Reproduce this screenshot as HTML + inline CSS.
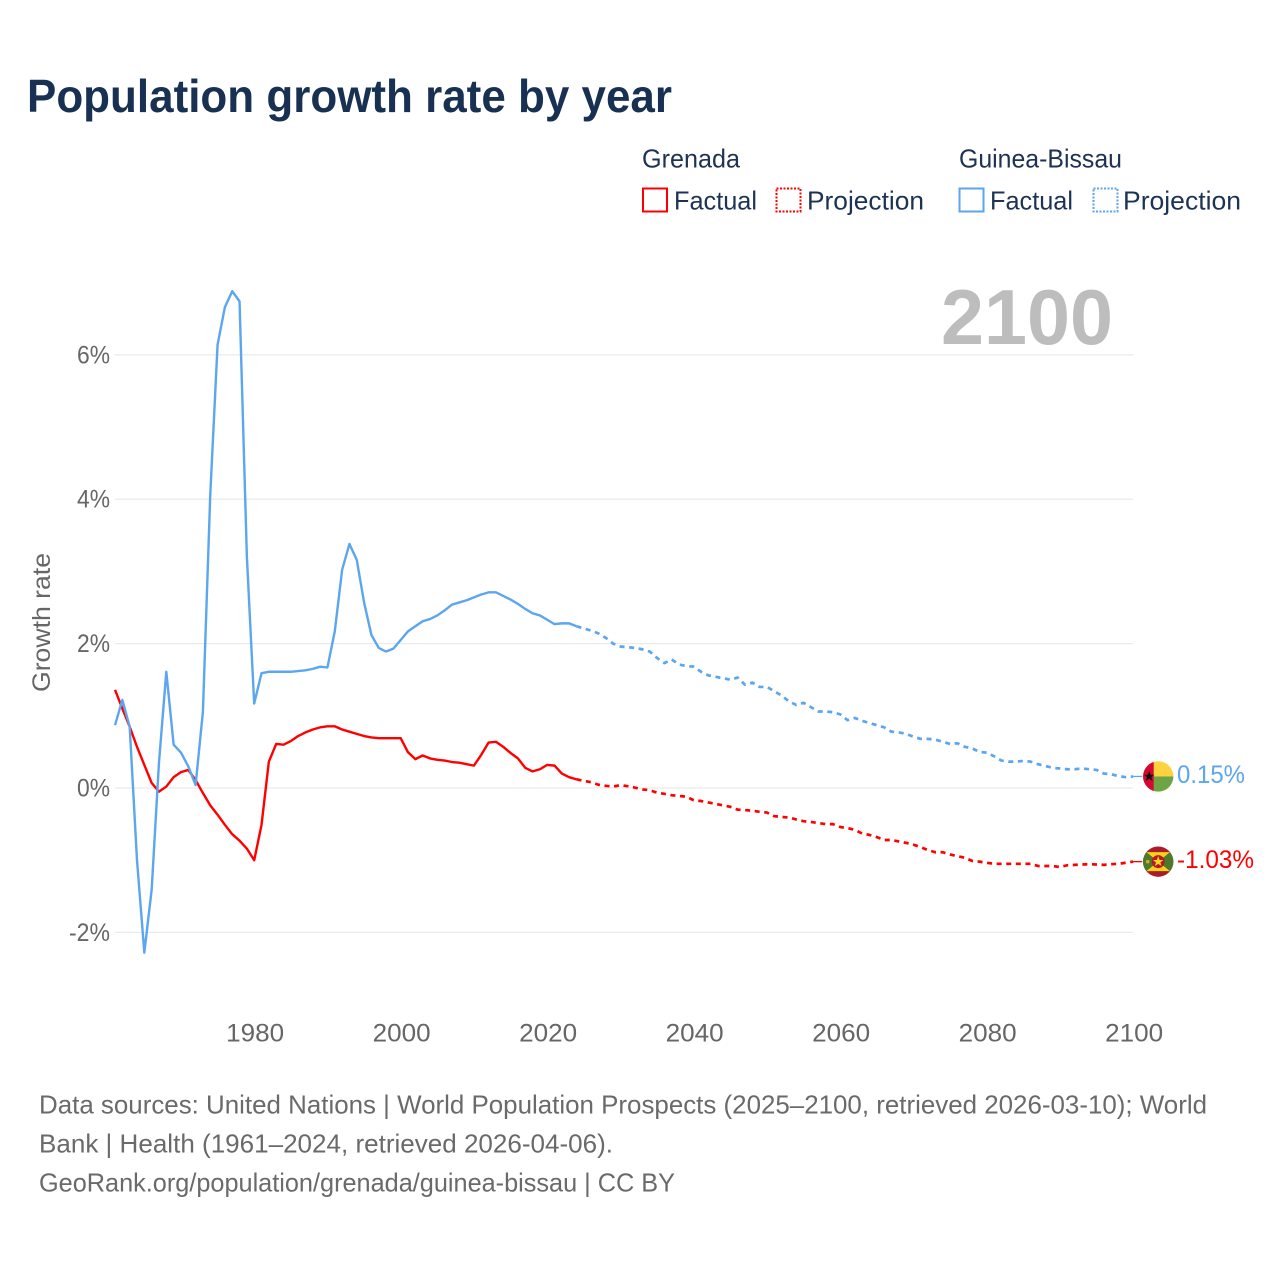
<!DOCTYPE html>
<html lang="en">
<head>
<meta charset="utf-8">
<title>Population growth rate by year</title>
<style>
html,body{margin:0;padding:0;background:#fff;}
svg{display:block;font-family:"Liberation Sans",sans-serif;}
</style>
</head>
<body>
<svg id="chart" xmlns="http://www.w3.org/2000/svg" width="1280" height="1280" viewBox="0 0 1280 1280">
  <defs>
    <clipPath id="flag-clip"><circle cx="0" cy="0" r="15.2"/></clipPath>
  </defs>
  <rect x="0" y="0" width="1280" height="1280" fill="#ffffff"/>
  <text x="27" y="112" font-size="46" font-weight="700" fill="#183153" textLength="645" lengthAdjust="spacingAndGlyphs">Population growth rate by year</text>

  <g font-size="26" fill="#1c3354">
    <text x="642" y="167.5" textLength="98" lengthAdjust="spacingAndGlyphs">Grenada</text>
    <text x="959" y="167.5" textLength="163" lengthAdjust="spacingAndGlyphs">Guinea-Bissau</text>
    <rect x="643" y="188.5" width="24" height="23" fill="none" stroke="#ff0000" stroke-width="2"/>
    <text x="674" y="209.5" textLength="83" lengthAdjust="spacingAndGlyphs">Factual</text>
    <rect x="776.5" y="188.5" width="24" height="23" fill="none" stroke="#ff0000" stroke-width="2" stroke-dasharray="2,1.5"/>
    <text x="807" y="209.5" textLength="117" lengthAdjust="spacingAndGlyphs">Projection</text>
    <rect x="959.5" y="188.5" width="24" height="23" fill="none" stroke="#5ba6ee" stroke-width="2"/>
    <text x="990" y="209.5" textLength="83" lengthAdjust="spacingAndGlyphs">Factual</text>
    <rect x="1093.5" y="188.5" width="24" height="23" fill="none" stroke="#5ba6ee" stroke-width="2" stroke-dasharray="2,1.5"/>
    <text x="1123" y="209.5" textLength="118" lengthAdjust="spacingAndGlyphs">Projection</text>
  </g>

  <text x="1113" y="344" font-size="78" font-weight="700" fill="#bdbdbd" text-anchor="end" textLength="172" lengthAdjust="spacingAndGlyphs">2100</text>

  <g id="grid"></g>
  <g id="y-ticks" font-size="25" fill="#666666"></g>
  <g id="x-ticks" font-size="25" fill="#666666"></g>
  <text transform="translate(50,692) rotate(-90)" font-size="25" fill="#666666" textLength="139" lengthAdjust="spacingAndGlyphs">Growth rate</text>

  <g id="series"></g>

  <g id="flag-guinea-bissau">
    <g clip-path="url(#flag-clip)">
      <rect x="-16" y="-16" width="12" height="32" fill="#d6082f"/>
      <rect x="-4.5" y="-16" width="21" height="16" fill="#fdd23f"/>
      <rect x="-4.5" y="0" width="21" height="16" fill="#6da544"/>
      <polygon points="-9,-5.5 -7.6,-1.7 -3.6,-1.7 -6.8,0.7 -5.6,4.5 -9,2.2 -12.4,4.5 -11.2,0.7 -14.4,-1.7 -10.4,-1.7" fill="#111111"/>
    </g>
  </g>
  <g id="flag-grenada">
    <g clip-path="url(#flag-clip)">
      <rect x="-16" y="-16" width="32" height="32" fill="#a81c2c"/>
      <polygon points="-12,-9.5 12,-9.5 0,0" fill="#fcd116"/>
      <polygon points="-12,9.5 12,9.5 0,0" fill="#fcd116"/>
      <polygon points="-16,-12 -12,-9.5 0,0 -12,9.5 -16,12" fill="#4c7a2c"/>
      <polygon points="16,-12 12,-9.5 0,0 12,9.5 16,12" fill="#4c7a2c"/>
      <circle cx="0" cy="0" r="6.5" fill="#b01c2e"/>
      <polygon points="0,-5.5 1.4,-1.7 5.2,-1.7 2.2,0.7 3.3,4.4 0,2.2 -3.3,4.4 -2.2,0.7 -5.2,-1.7 -1.4,-1.7" fill="#fcd116"/>
      <circle cx="-10.5" cy="0" r="1.8" fill="#e0a820"/>
    </g>
  </g>
  <g id="end-labels" font-size="25"></g>

  <g font-size="26" fill="#6a6a6a">
    <text x="39" y="1113.5" textLength="1168" lengthAdjust="spacingAndGlyphs">Data sources: United Nations | World Population Prospects (2025–2100, retrieved 2026-03-10); World</text>
    <text x="39" y="1152.5" textLength="574" lengthAdjust="spacingAndGlyphs">Bank | Health (1961–2024, retrieved 2026-04-06).</text>
    <text x="39" y="1191.5" textLength="636" lengthAdjust="spacingAndGlyphs">GeoRank.org/population/grenada/guinea-bissau | CC BY</text>
  </g>
</svg>
<script>
const years = [1961,1962,1963,1964,1965,1966,1967,1968,1969,1970,1971,1972,1973,1974,1975,1976,1977,1978,1979,1980,1981,1982,1983,1984,1985,1986,1987,1988,1989,1990,1991,1992,1993,1994,1995,1996,1997,1998,1999,2000,2001,2002,2003,2004,2005,2006,2007,2008,2009,2010,2011,2012,2013,2014,2015,2016,2017,2018,2019,2020,2021,2022,2023,2024,2025,2026,2027,2028,2029,2030,2031,2032,2033,2034,2035,2036,2037,2038,2039,2040,2041,2042,2043,2044,2045,2046,2047,2048,2049,2050,2051,2052,2053,2054,2055,2056,2057,2058,2059,2060,2061,2062,2063,2064,2065,2066,2067,2068,2069,2070,2071,2072,2073,2074,2075,2076,2077,2078,2079,2080,2081,2082,2083,2084,2085,2086,2087,2088,2089,2090,2091,2092,2093,2094,2095,2096,2097,2098,2099,2100];
const grenadaValues = [1.36,1.10,0.85,0.57,0.32,0.07,-0.05,0.02,0.15,0.22,0.25,0.11,-0.07,-0.24,-0.37,-0.51,-0.64,-0.73,-0.84,-1.0,-0.51,0.365,0.61,0.60,0.65,0.72,0.77,0.81,0.84,0.855,0.855,0.81,0.78,0.75,0.72,0.70,0.69,0.69,0.69,0.69,0.495,0.40,0.45,0.41,0.39,0.38,0.36,0.35,0.33,0.31,0.46,0.63,0.64,0.57,0.485,0.41,0.28,0.23,0.26,0.32,0.31,0.20,0.15,0.12,0.10,0.08,0.045,0.03,0.02,0.04,0.025,0.005,-0.02,-0.03,-0.065,-0.08,-0.10,-0.11,-0.12,-0.17,-0.18,-0.20,-0.22,-0.24,-0.26,-0.30,-0.305,-0.315,-0.33,-0.34,-0.39,-0.40,-0.41,-0.435,-0.46,-0.47,-0.485,-0.50,-0.50,-0.54,-0.555,-0.58,-0.63,-0.65,-0.68,-0.72,-0.72,-0.74,-0.76,-0.785,-0.82,-0.86,-0.89,-0.89,-0.92,-0.945,-0.965,-1.01,-1.02,-1.035,-1.05,-1.05,-1.05,-1.05,-1.05,-1.05,-1.08,-1.08,-1.08,-1.095,-1.07,-1.065,-1.06,-1.055,-1.06,-1.065,-1.055,-1.05,-1.035,-1.02];
const guineaBissauValues = [0.87,1.22,0.85,-1.0,-2.28,-1.41,0.35,1.61,0.60,0.49,0.30,0.04,1.06,4.06,6.14,6.66,6.88,6.74,3.2,1.17,1.59,1.61,1.61,1.61,1.61,1.62,1.63,1.65,1.68,1.67,2.17,3.02,3.38,3.16,2.57,2.12,1.94,1.89,1.93,2.05,2.17,2.24,2.31,2.34,2.39,2.46,2.54,2.57,2.60,2.64,2.68,2.71,2.71,2.66,2.61,2.55,2.48,2.42,2.39,2.33,2.27,2.28,2.28,2.24,2.21,2.18,2.14,2.08,2.0,1.96,1.95,1.94,1.92,1.89,1.80,1.73,1.78,1.71,1.69,1.68,1.61,1.56,1.54,1.52,1.50,1.53,1.43,1.46,1.40,1.40,1.34,1.28,1.20,1.15,1.18,1.12,1.06,1.06,1.05,1.02,0.94,0.97,0.93,0.90,0.87,0.84,0.78,0.77,0.75,0.71,0.68,0.68,0.67,0.64,0.61,0.62,0.57,0.55,0.50,0.49,0.44,0.38,0.365,0.365,0.375,0.365,0.33,0.305,0.28,0.27,0.26,0.26,0.27,0.26,0.25,0.20,0.19,0.165,0.15,0.16];
const lastFactualYear = 2024;
const xTicks = [1980,2000,2020,2040,2060,2080,2100];
const xTickLabels = ["1980","2000","2020","2040","2060","2080","2100"];
const yTicks = [-2,0,2,4,6];
const yTickLabels = ["-2%","0%","2%","4%","6%"];
const endLabels = ["-1.03%","0.15%"];

const SVG_NS = "http://www.w3.org/2000/svg";
const RED = "#ff0000";
const BLUE = "#5ba6ee";
function xScale(year){ return 254.2 + (year - 1980) * 7.325; }
function yScale(value){ return 788 - value * 72.2; }
function mk(tag, attrs, parent){
  const el = document.createElementNS(SVG_NS, tag);
  for (const k in attrs) el.setAttribute(k, attrs[k]);
  parent.appendChild(el);
  return el;
}
const gridG = document.getElementById("grid");
const yG = document.getElementById("y-ticks");
const xG = document.getElementById("x-ticks");
const seriesG = document.getElementById("series");
const labelsG = document.getElementById("end-labels");

yTicks.forEach(function(v, i){
  const line = mk("line", {x1:115, x2:1133, y1:yScale(v), y2:yScale(v), stroke:"#ebebeb", "stroke-width":1.3}, gridG);
  
  
  const label = mk("text", {x:110, y:yScale(v)+8.5, "text-anchor":"end", textLength:yTickLabels[i].length === 3 ? 41 : 33, lengthAdjust:"spacingAndGlyphs"}, yG);
  label.textContent = yTickLabels[i];
  
  
});
xTicks.forEach(function(v, i){
  const label = mk("text", {x:xScale(v)+0.9, y:1041.5, "text-anchor":"middle", textLength:58, lengthAdjust:"spacingAndGlyphs"}, xG);
  label.textContent = xTickLabels[i];
  
  
});

function buildPath(values, from, to){
  let d = "";
  years.forEach(function(yr, i){
    if (yr < from || yr > to) return;
    d += (d ? "L" : "M") + xScale(yr).toFixed(2) + " " + yScale(values[i]).toFixed(2);
  });
  return d;
}
function drawSeries(values, color, flagId, labelIdx){
  const lastYear = years[years.length - 1];
  const lastVal = values[values.length - 1];
  const lastX = xScale(lastYear);
  const lastY = yScale(lastVal);

  const factual = mk("path", {d:buildPath(values, years[0], lastFactualYear), fill:"none", stroke:color, "stroke-width":2.4, "stroke-linejoin":"round"}, seriesG);
  
  

  const proj = mk("path", {d:buildPath(values, lastFactualYear, lastYear), fill:"none", stroke:color, "stroke-width":2.7, "stroke-dasharray":"5,4.6", "stroke-linejoin":"round"}, seriesG);
  
  

  const conn = mk("line", {x1:lastX, x2:lastX + 9, y1:lastY, y2:lastY, stroke:color, "stroke-width":1.3}, seriesG);
  
  

  document.getElementById(flagId).setAttribute("transform", "translate(" + (lastX + 25) + "," + lastY + ")");

  const label = mk("text", {x:lastX + 43.8, y:lastY + 6.5, fill:color, textLength:endLabels[labelIdx].length === 6 ? 77 : 68, lengthAdjust:"spacingAndGlyphs"}, labelsG);
  label.textContent = endLabels[labelIdx];
  
  
}
drawSeries(grenadaValues, RED, "flag-grenada", 0);
drawSeries(guineaBissauValues, BLUE, "flag-guinea-bissau", 1);
</script>
</body>
</html>
